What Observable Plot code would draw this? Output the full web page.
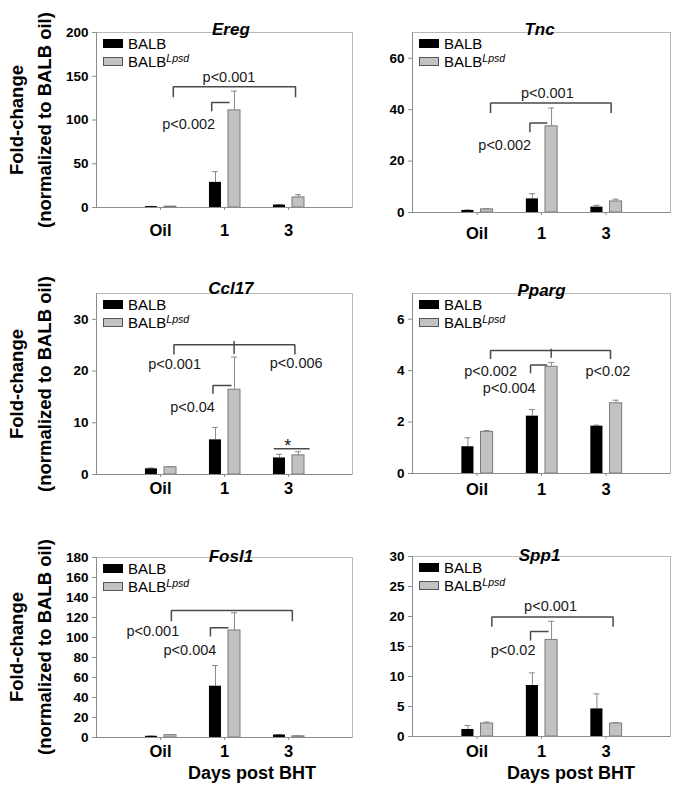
<!DOCTYPE html>
<html><head><meta charset="utf-8">
<script src="https://cdn.jsdelivr.net/npm/d3@7"></script>
<script src="https://cdn.jsdelivr.net/npm/@observablehq/plot@0.6"></script>
<style>
body{margin:0;background:#fff;}
#fig{position:relative;width:685px;height:794px;overflow:hidden;font-family:"Liberation Sans",Arial,sans-serif;background:#fff;color:#000;}
.panel{position:absolute;}
.ytitle{position:absolute;transform:translate(-50%,-50%) rotate(-90deg);white-space:nowrap;font-weight:bold;font-size:18.5px;}
.xtitle{position:absolute;transform:translate(-50%,-50%);white-space:nowrap;font-weight:bold;font-size:18px;}
.legend{position:absolute;font-size:15px;}
.legend .row{display:flex;align-items:center;height:18px;}
.sw{width:20px;height:9px;box-sizing:border-box;margin-right:5px;}
.sup{font-style:italic;font-size:10.5px;position:relative;top:-5px;}
</style>
</head><body>
<div id="fig"></div>
<script>
// ---- data ----
const days = ["Oil", "1", "3"];
const seriesNames = ["BALB", "BALB Lpsd"];
const genes = ["Ereg", "Tnc", "Ccl17", "Pparg", "Fosl1", "Spp1"];
const yMax = [200, 70, 35, 7, 180, 30];
const yStep = [50, 20, 10, 2, 20, 5];
const balbMean = [[1.0, 28.7, 2.8], [0.8, 5.3, 2.1], [1.1, 6.7, 3.2], [1.04, 2.23, 1.84], [1.2, 51.3, 2.5], [1.17, 8.5, 4.6]];
const balbSD   = [[0.3, 12.3, 0.4], [0.2, 2.0, 0.7], [0.15, 2.4, 0.7], [0.35, 0.26, 0.04], [0.3, 20.7, 0.3], [0.66, 2.1, 2.5]];
const lpsdMean = [[1.0, 111, 11.5], [1.2, 33.5, 4.3], [1.4, 16.4, 3.7], [1.62, 4.15, 2.73], [2.3, 107, 1.2], [2.17, 16.1, 2.17]];
const lpsdSD   = [[0.2, 22, 3.1], [0.3, 7.1, 0.9], [0.1, 6.3, 0.7], [0.05, 0.17, 0.12], [0.5, 17.7, 0.3], [0.23, 3.1, 0.13]];
// significance brackets (polylines in data units: x = day position 1..3, y = fold-change)
const brackets = [
  [[[1.2,126],[1.2,138],[3.11,138],[3.11,126]], [[1.8,110],[1.8,120],[2.08,120]]],
  [[[1.21,38.7],[1.21,42.6],[3.08,42.6],[3.08,38.7]], [[1.82,31.2],[1.82,34.8],[2.09,34.8]]],
  [[[1.21,23.2],[1.21,25.1],[3.1,25.1],[3.1,23.2]], [[2.15,25.8],[2.15,23.3]], [[1.82,15.6],[1.82,17.2],[2.11,17.2]], [[2.77,5.0],[3.33,5.0]]],
  [[[1.21,4.45],[1.21,4.78],[3.07,4.78],[3.07,4.45]], [[2.15,4.85],[2.15,4.5]], [[1.83,3.9],[1.83,4.22],[2.09,4.22]]],
  [[[1.17,116.3],[1.17,127],[3.06,127],[3.06,116.3]], [[1.78,101],[1.78,109.7],[2.06,109.7]]],
  [[[1.23,18.3],[1.23,19.9],[3.11,19.9],[3.11,18.3]], [[1.83,16],[1.83,17.5],[2.11,17.5]]]
];
const pText = [
  [["p<0.001", 2.07, 149], ["p<0.002", 1.44, 95]],
  [["p<0.001", 2.09, 46.5], ["p<0.002", 1.43, 26]],
  [["p<0.001", 1.22, 21.3], ["p<0.006", 3.12, 21.5], ["p<0.04", 1.5, 13], ["*", 2.99, 5.4]],
  [["p<0.002", 1.21, 3.96], ["p<0.004", 1.5, 3.31], ["p<0.02", 3.03, 3.96]],
  [["p<0.001", 0.88, 106], ["p<0.004", 1.46, 87]],
  [["p<0.001", 2.14, 21.7], ["p<0.02", 1.56, 14.3]]
];
const xTitle = "Days post BHT";
const yTitle1 = "Fold-change";
const yTitle2 = "(normalized to BALB oil)";

// ---- layout (positions/styles only) ----
const layout = [
  {left: 0,   top: 0,   w: 356, h: 250, mt: 32, mb: 43, ml: 96, mr: 4,  xPad: 14, tx: 2.1,  tdy: -10},
  {left: 356, top: 0,   w: 329, h: 250, mt: 32, mb: 38, ml: 56, mr: 15, xPad: 12, tx: 1.97, tdy: -10},
  {left: 0,   top: 260, w: 356, h: 250, mt: 33, mb: 36, ml: 96, mr: 4,  xPad: 5,  tx: 2.1,  tdy: -12},
  {left: 356, top: 260, w: 329, h: 250, mt: 33, mb: 37, ml: 56, mr: 15, xPad: 7,  tx: 2.0,  tdy: -10},
  {left: 0,   top: 520, w: 356, h: 240, mt: 37, mb: 23, ml: 96, mr: 4,  xPad: 5,  tx: 2.1,  tdy: -8},
  {left: 356, top: 520, w: 329, h: 240, mt: 36, mb: 24, ml: 56, mr: 15, xPad: 6,  tx: 1.97, tdy: -8}
];
const FONT = '"Liberation Sans", Arial, sans-serif';
const balbOff = [-0.235, -0.047], lpsdOff = [0.062, 0.25], cap = 0.047;

const fig = document.getElementById("fig");

genes.forEach((gene, p) => {
  const L = layout[p];
  const rows = [];
  days.forEach((d, i) => {
    rows.push({day: d, g: i + 1, series: seriesNames[0], mean: balbMean[p][i], sd: balbSD[p][i], o: balbOff});
    rows.push({day: d, g: i + 1, series: seriesNames[1], mean: lpsdMean[p][i], sd: lpsdSD[p][i], o: lpsdOff});
  });
  const ctr = d => d.g + (d.o[0] + d.o[1]) / 2;
  const pts = brackets[p].flatMap((line, k) => line.map(([x, y]) => ({id: k, x, y})));
  const labels = pText[p].map(([text, x, y]) => ({text, x, y}));
  const chart = Plot.plot({
    width: L.w, height: L.h,
    marginTop: L.mt, marginBottom: L.mb, marginLeft: L.ml, marginRight: L.mr,
    x: {domain: [0, 4]},
    y: {domain: [0, yMax[p]]},
    style: {fontFamily: FONT, color: "#000", background: "transparent", overflow: "visible"},
    marks: [
      Plot.frame({stroke: "#b8b8b8"}),
      Plot.ruleX(rows, {x: ctr, y1: "mean", y2: d => d.mean + d.sd, stroke: "#8a8a8a", strokeWidth: 1}),
      Plot.ruleY(rows, {x1: d => ctr(d) - cap, x2: d => ctr(d) + cap, y: d => d.mean + d.sd, stroke: "#8a8a8a", strokeWidth: 1}),
      Plot.rect(rows.filter(d => d.series === seriesNames[0]), {x1: d => d.g + d.o[0], x2: d => d.g + d.o[1], y1: () => 0, y2: "mean", fill: "#000"}),
      Plot.rect(rows.filter(d => d.series === seriesNames[1]), {x1: d => d.g + d.o[0], x2: d => d.g + d.o[1], y1: () => 0, y2: "mean", fill: "#c2c2c2", stroke: "#7a7a7a", strokeWidth: 1}),
      Plot.ruleX([0], {stroke: "#8c8c8c"}),
      Plot.ruleY([0], {stroke: "#8c8c8c"}),
      Plot.line(pts, {x: "x", y: "y", z: "id", stroke: "#4a4a4a", strokeWidth: 1.5, strokeLinejoin: "miter", strokeLinecap: "butt"}),
      Plot.text(labels, {x: "x", y: "y", text: "text", fontSize: d => d.text === "*" ? 18 : 14.5, fill: "#1a1a1a", fontWeight: d => d.text === "*" ? "bold" : "normal"}),
      Plot.text([gene], {x: L.tx, frameAnchor: "top", dy: L.tdy, text: d => d, fontSize: 17, fontWeight: "bold", fontStyle: "italic", fill: "#000"}),
      Plot.axisY({ticks: d3.range(0, yMax[p] + 1e-9, yStep[p]), tickFormat: d => String(d), tickSize: 4, tickPadding: 4, fontSize: 13.5, fontWeight: "bold", stroke: "#8c8c8c", label: null}),
      Plot.axisX({ticks: [1, 2, 3], tickFormat: d => days[d - 1], tickSize: 3, tickPadding: L.xPad, fontSize: 16.5, fontWeight: "bold", stroke: "#8c8c8c", label: null})
    ]
  });
  const wrap = document.createElement("div");
  wrap.className = "panel";
  wrap.style.left = L.left + "px";
  wrap.style.top = L.top + "px";
  wrap.appendChild(chart);
  fig.appendChild(wrap);

  // legend
  const lg = document.createElement("div");
  lg.className = "legend";
  lg.style.left = (L.left + L.ml + 7) + "px";
  lg.style.top = (L.top + L.mt + 2) + "px";
  lg.innerHTML =
    `<div class="row"><div class="sw" style="background:#000"></div><span>BALB</span></div>` +
    `<div class="row"><div class="sw" style="background:#c2c2c2;border:1px solid #555"></div><span>BALB<span class="sup">Lpsd</span></span></div>`;
  fig.appendChild(lg);

  // y titles on left column
  if (L.left === 0) {
    const cy = L.top + L.mt + (L.h - L.mt - L.mb) / 2;
    [[yTitle1, 17], [yTitle2, 45]].forEach(([t, x]) => {
      const el = document.createElement("div");
      el.className = "ytitle";
      el.style.left = x + "px";
      el.style.top = cy + "px";
      el.textContent = t;
      fig.appendChild(el);
    });
  }
  // x title on bottom row
  if (p >= 4) {
    const el = document.createElement("div");
    el.className = "xtitle";
    el.style.left = (p === 4 ? 252 : 571) + "px";
    el.style.top = "773px";
    el.textContent = xTitle;
    fig.appendChild(el);
  }
});
</script>
</body></html>
